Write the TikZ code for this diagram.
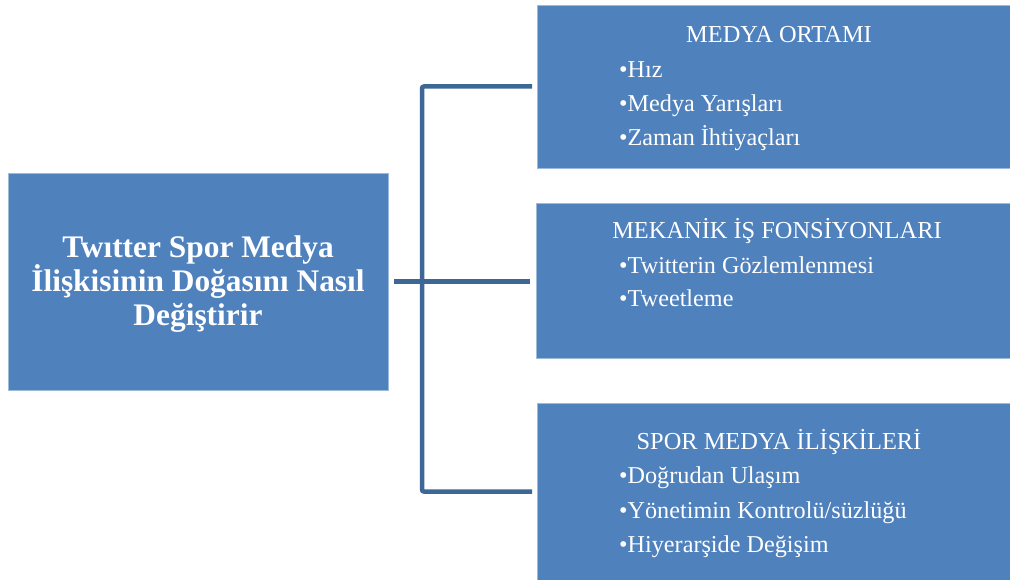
\documentclass[tikz,border=0pt]{standalone}
\usepackage{fontspec}
\setmainfont{Liberation Serif}
\definecolor{boxfill}{HTML}{4F81BD}
\definecolor{boxline}{HTML}{9DB9DC}
\definecolor{conncol}{HTML}{3D6797}
\begin{document}
\begin{tikzpicture}[x=1pt,y=-1pt,
  bluebox/.style={rectangle, fill=boxfill, draw=boxline, line width=0.8pt, inner sep=0pt, outer sep=0pt, anchor=north west},
  conn/.style={draw=conncol, line width=4.5pt},
  ttl/.style={text=white, font=\fontsize{24.4}{27}\selectfont, inner sep=0pt, anchor=base},
  itm/.style={text=white, font=\fontsize{24.2}{27}\selectfont, inner sep=0pt, anchor=base west}]
\useasboundingbox (0,0) rectangle (1010,580);
\fill[white] (0,0) rectangle (1010,580);
% boxes
\node[bluebox, minimum width=380pt, minimum height=217pt] (main) at (8,173) {};
\node[bluebox, minimum width=475pt, minimum height=163pt] (b1) at (537,5) {};
\node[bluebox, minimum width=476pt, minimum height=155pt] (b2) at (536,203) {};
\node[bluebox, minimum width=475pt, minimum height=177pt] (b3) at (537,403) {};
% main text
\node[text=white, font=\bfseries\fontsize{31.4}{34}\selectfont, align=center, inner sep=0pt] (maintxt) at ([yshift=-3pt]main.center)
  {Twıtter Spor Medya\\İlişkisinin Doğasını Nasıl\\Değiştirir};
% box 1 text
\node[ttl] (t1) at (779,43) {MEDYA ORTAMI};
\node[itm] (i11) at (619,78) {•Hız};
\node[itm] (i12) at (619,112) {•Medya Yarışları};
\node[itm] (i13) at (619,146) {•Zaman İhtiyaçları};
% box 2 text
\node[ttl] (t2) at (777,239) {MEKANİK İŞ FONSİYONLARI};
\node[itm] (i21) at (619,273) {•Twitterin Gözlemlenmesi};
\node[itm] (i22) at (619,307) {•Tweetleme};
% box 3 text
\node[ttl] (t3) at (779,449) {SPOR MEDYA İLİŞKİLERİ};
\node[itm] (i31) at (619,483) {•Doğrudan Ulaşım};
\node[itm] (i32) at (619,518) {•Yönetimin Kontrolü/süzlüğü};
\node[itm] (i33) at (619,552) {•Hiyerarşide Değişim};
% connectors
\coordinate (bus) at (422,281);
\draw[conn] ([xshift=6pt]main.east) -- ([xshift=-6pt]b2.west |- main.east);
\draw[conn, rounded corners=2pt] ([xshift=-5pt]b1.west) -- (b1.west -| bus) -- (b3.west -| bus) -- ([xshift=-5pt]b3.west);
\end{tikzpicture}
\end{document}
